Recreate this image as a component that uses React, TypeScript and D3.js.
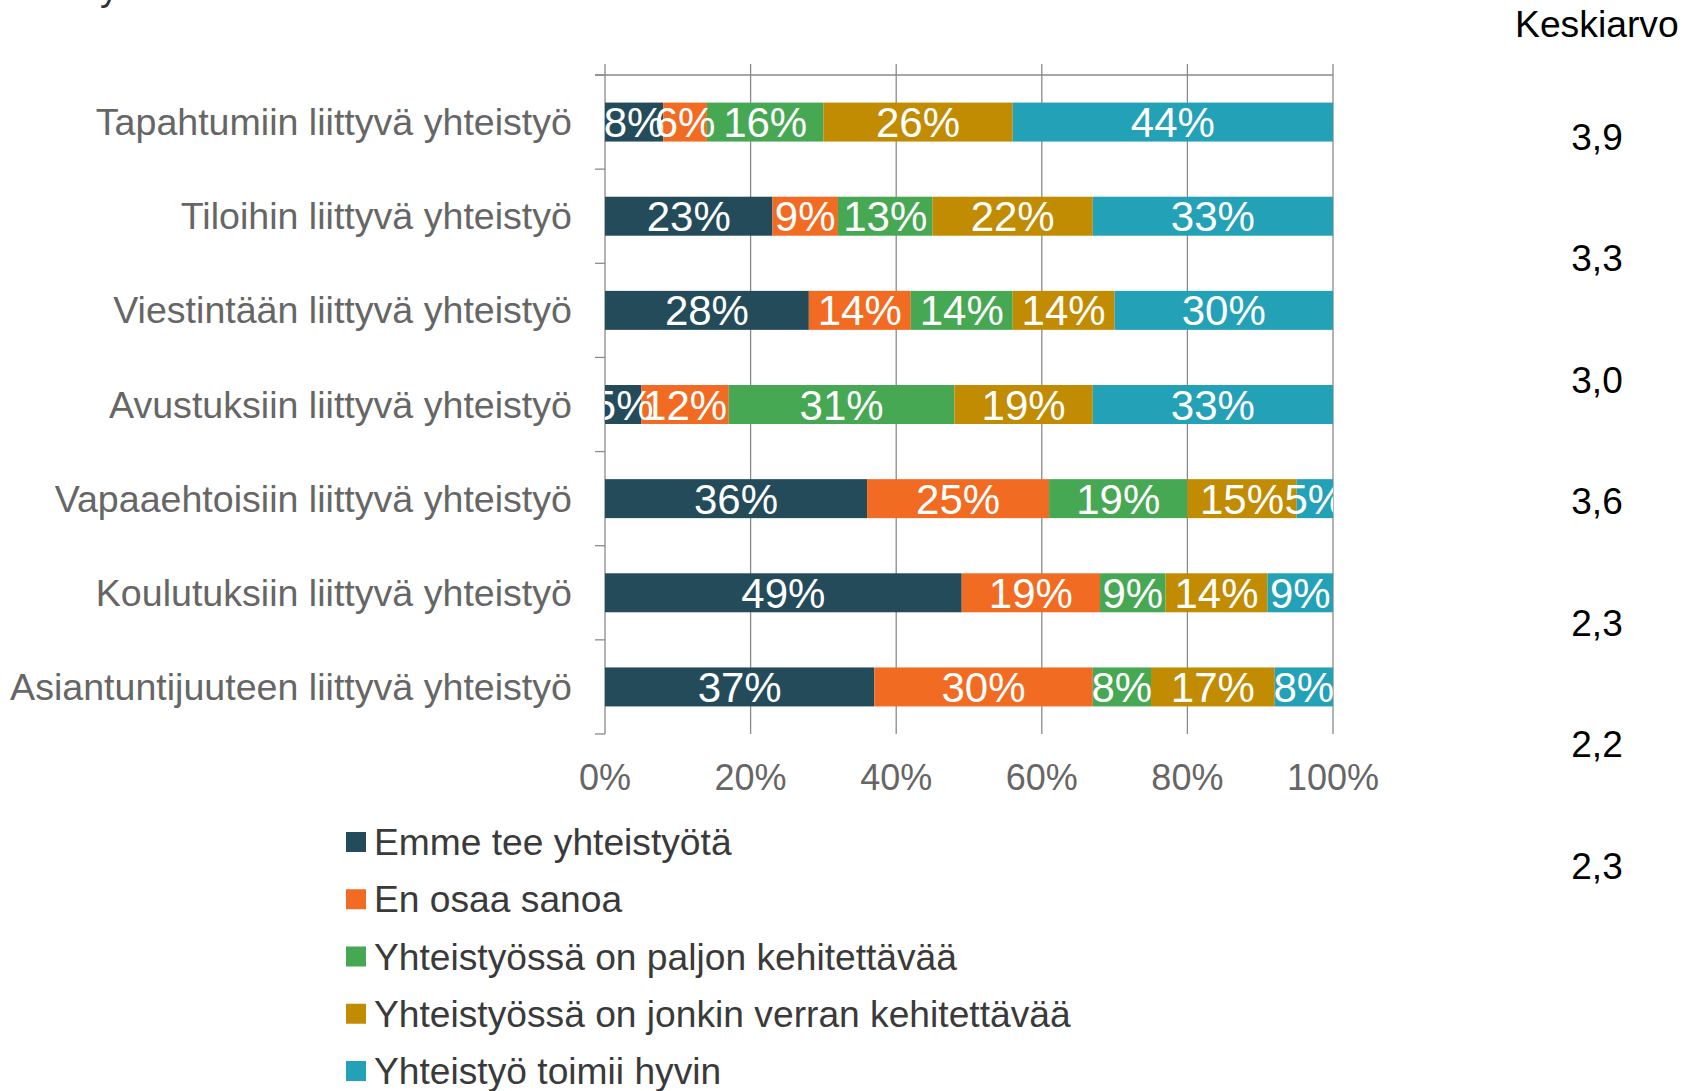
import React from "react";
import * as d3 from "d3";

const categories = [
  "Tapahtumiin liittyvä yhteistyö",
  "Tiloihin liittyvä yhteistyö",
  "Viestintään liittyvä yhteistyö",
  "Avustuksiin liittyvä yhteistyö",
  "Vapaaehtoisiin liittyvä yhteistyö",
  "Koulutuksiin liittyvä yhteistyö",
  "Asiantuntijuuteen liittyvä yhteistyö",
];

const seriesNames = [
  "Emme tee yhteistyötä",
  "En osaa sanoa",
  "Yhteistyössä on paljon kehitettävää",
  "Yhteistyössä on jonkin verran kehitettävää",
  "Yhteistyö toimii hyvin",
];

const seriesColors = ["#234B5A", "#F26B22", "#46A853", "#C18B02", "#23A1B7"];

const emme = [8, 23, 28, 5, 36, 49, 37];
const enOsaa = [6, 9, 14, 12, 25, 19, 30];
const paljon = [16, 13, 14, 31, 19, 9, 8];
const jonkin = [26, 22, 14, 19, 15, 14, 17];
const hyvin = [44, 33, 30, 33, 5, 9, 8];

const keskiarvot = ["3,9", "3,3", "3,0", "3,6", "2,3", "2,2", "2,3"];
const xTicks = [0, 20, 40, 60, 80, 100];
const keskiarvoTitle = "Keskiarvo";

const FONT = "'Liberation Sans', Arial, sans-serif";

export default function App() {
  const W = 1685;
  const H = 1091;
  const x = d3.scaleLinear().domain([0, 100]).range([605, 1333]);
  const y = d3
    .scaleBand<string>()
    .domain(categories)
    .range([75, 734])
    .paddingInner(0.586)
    .paddingOuter(0.293);
  const bw = y.bandwidth();

  const seriesValues = [emme, enOsaa, paljon, jonkin, hyvin];
  const rows = categories.map((c, i) => {
    const obj: any = { cat: c };
    seriesNames.forEach((s, k) => (obj[s] = seriesValues[k][i]));
    return obj;
  });
  const stacked = d3.stack<any>().keys(seriesNames)(rows);

  const meanY = d3.scaleLinear().domain([0, 6]).range([136.5, 866]);
  const legendY = d3.scaleLinear().domain([0, 4]).range([842, 1071]);

  const [x0, x1] = x.range();
  const [yTop, yBot] = y.range();
  const boundaries = d3.range(categories.length + 1).map((i) => yTop + i * y.step());

  return (
    <svg
      width={W}
      height={H}
      style={{ position: "absolute", left: 0, top: 0, background: "#fff" }}
      fontFamily={FONT}
    >
      <defs>
        <clipPath id="plotClip">
          <rect x={x0} y={0} width={x1 - x0} height={H} />
        </clipPath>
      </defs>
      <text x={100} y={0} fontSize={37} fill="#333">
        y
      </text>

      {/* gridlines */}
      {xTicks.map((t) => (
        <line
          key={"g" + t}
          x1={x(t)}
          x2={x(t)}
          y1={64}
          y2={yBot}
          stroke="#8a8a8a"
          strokeWidth={1.3}
        />
      ))}
      {/* top line */}
      <line x1={595} x2={x1} y1={yTop} y2={yTop} stroke="#8a8a8a" strokeWidth={1.3} />
      {/* category ticks */}
      {boundaries.map((b, i) => (
        <line key={"t" + i} x1={595} x2={x0} y1={b} y2={b} stroke="#8a8a8a" strokeWidth={1.3} />
      ))}

      {/* bars */}
      {stacked.map((s, k) => (
        <g key={s.key} fill={seriesColors[k]}>
          {s.map((d, i) => (
            <rect
              key={i}
              x={x(d[0])}
              y={y(categories[i])!}
              width={x(d[1]) - x(d[0])}
              height={bw}
            />
          ))}
        </g>
      ))}

      {/* value labels */}
      <g clipPath="url(#plotClip)">
        {stacked.map((s, k) => (
          <g key={"l" + s.key}>
            {s.map((d, i) => (
              <text
                key={i}
                x={(x(d[0]) + x(d[1])) / 2}
                y={y(categories[i])! + bw / 2 + 15}
                textAnchor="middle"
                fontSize={42}
                fill="#fff"
              >
                {d[1] - d[0] + "%"}
              </text>
            ))}
          </g>
        ))}
      </g>

      {/* category labels */}
      {categories.map((c) => (
        <text
          key={c}
          x={572}
          y={y(c)! + bw / 2 + 13}
          textAnchor="end"
          fontSize={37.6}
          fill="#666"
        >
          {c}
        </text>
      ))}

      {/* x tick labels */}
      {xTicks.map((t) => (
        <text key={"xl" + t} x={x(t)} y={790} textAnchor="middle" fontSize={36} fill="#666">
          {t + "%"}
        </text>
      ))}

      {/* Keskiarvo */}
      <text x={1515} y={37} fontSize={37.3} fill="#000">
        {keskiarvoTitle}
      </text>
      {keskiarvot.map((m, i) => (
        <text key={"m" + i} x={1597} y={meanY(i) + 13} textAnchor="middle" fontSize={37} fill="#000">
          {m}
        </text>
      ))}

      {/* legend */}
      {seriesNames.map((s, k) => (
        <g key={"lg" + s}>
          <rect x={346} y={legendY(k) - 10} width={20} height={20} fill={seriesColors[k]} />
          <text x={374} y={legendY(k) + 13} fontSize={37.2} fill="#3a3a3a">
            {s}
          </text>
        </g>
      ))}
    </svg>
  );
}
